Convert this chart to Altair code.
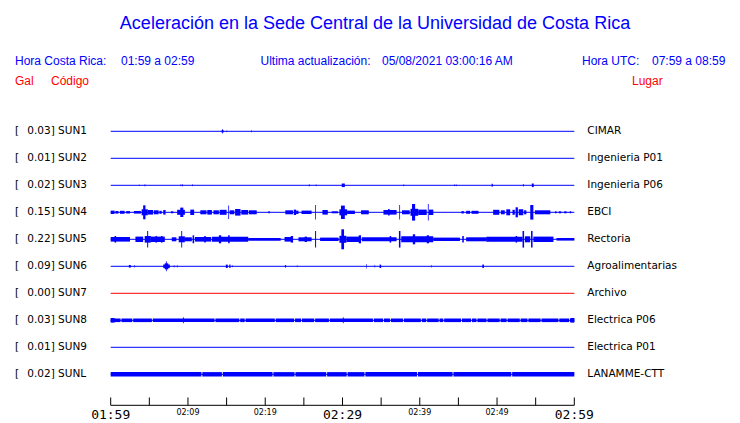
import altair as alt
import pandas as pd

# ---------------- data ----------------
codes = ["SUN1", "SUN2", "SUN3", "SUN4", "SUN5", "SUN6", "SUN7", "SUN8", "SUN9", "SUNL"]
peaks = ["0.03", "0.01", "0.02", "0.15", "0.22", "0.09", "0.00", "0.03", "0.01", "0.02"]
places = ["CIMAR", "Ingenieria P01", "Ingenieria P06", "EBCI", "Rectoria",
          "Agroalimentarias", "Archivo", "Electrica P06", "Electrica P01", "LANAMME-CTT"]
trace_colors = ["#0000ff"] * 6 + ["#ff0000"] + ["#0000ff"] * 3

# bursts: (start minute, end minute, half amplitude)
sun1 = [(14.35, 14.6, 1.3), (14.42, 14.5, 2.3), (15.0, 15.07, 1.0), (18.2, 18.28, 1.0)]
sun2 = []
sun3 = [(3.65, 3.72, 0.8), (4.4, 4.47, 1.3), (9.05, 9.12, 1.0), (9.22, 9.3, 1.3),
        (10.52, 10.6, 1.0), (25.65, 25.73, 1.3), (26.55, 26.62, 1.0), (29.9, 30.3, 1.8),
        (37.9, 37.98, 1.0), (44.45, 44.52, 1.0), (44.68, 44.75, 1.0), (49.3, 49.45, 1.5),
        (53.35, 53.45, 1.3), (54.5, 54.75, 1.8)]
sun4 = [(0.0, 0.5, 1.7), (0.6, 1.0, 1.3), (1.2, 1.8, 1.5), (2.0, 2.5, 1.2), (3.0, 3.9, 1.3),
        (4.0, 4.8, 3.0), (4.2, 4.5, 7.0), (4.8, 5.5, 2.3), (5.6, 6.2, 2.0), (6.3, 6.6, 1.5),
        (6.8, 7.1, 2.3), (7.8, 8.1, 1.0), (8.6, 9.6, 2.5), (9.0, 9.4, 4.7), (10.3, 10.8, 2.7),
        (11.6, 12.4, 2.0), (12.5, 13.1, 2.3), (13.3, 14.0, 2.0), (14.1, 15.0, 2.5),
        (15.22, 15.32, 6.7), (15.4, 16.0, 2.0), (16.1, 16.8, 3.3), (16.9, 17.8, 2.3),
        (17.9, 18.9, 2.0), (20.4, 20.6, 1.0), (22.6, 23.6, 2.0), (23.7, 24.0, 2.7),
        (24.0, 24.3, 1.7), (24.7, 26.0, 1.7), (26.45, 26.55, 7.3), (27.4, 28.1, 2.3),
        (28.6, 29.4, 1.0), (29.6, 30.6, 3.0), (29.8, 30.3, 6.7), (30.6, 31.6, 1.7),
        (32.4, 33.4, 2.0), (35.3, 37.0, 2.3), (35.9, 36.1, 3.3), (37.35, 37.45, 7.3),
        (37.7, 38.7, 2.0), (38.8, 39.8, 3.5), (39.0, 39.4, 8.3), (39.8, 40.9, 2.7),
        (41.05, 41.15, 8.3), (41.2, 41.75, 2.7), (45.4, 45.7, 1.2), (46.0, 46.5, 1.5),
        (46.7, 47.6, 1.5), (49.5, 50.3, 2.5), (50.5, 51.0, 2.0), (51.2, 51.7, 3.0),
        (52.0, 52.3, 2.5), (52.4, 52.7, 5.0), (52.8, 53.4, 3.0), (53.5, 53.8, 2.0),
        (54.3, 54.7, 7.3), (54.9, 56.9, 2.0), (57.5, 57.7, 1.0), (58.0, 58.3, 1.0),
        (58.7, 59.0, 1.0), (59.4, 59.6, 1.0)]
sun5 = [(0.0, 2.5, 2.3), (0.5, 0.7, 3.3), (3.2, 4.2, 2.7), (4.4, 5.2, 3.3), (4.72, 4.85, 8.3),
        (5.2, 7.0, 2.7), (5.8, 6.0, 3.3), (6.5, 6.7, 3.3), (7.9, 8.5, 2.0), (8.8, 9.6, 3.0),
        (9.13, 9.25, 8.3), (9.6, 10.5, 2.0), (10.6, 10.8, 4.0), (10.9, 13.0, 2.3),
        (12.1, 12.3, 3.3), (13.1, 17.8, 2.5), (14.0, 14.3, 4.0), (15.2, 15.4, 4.0),
        (17.8, 22.0, 1.4), (22.5, 23.6, 2.3), (23.3, 23.6, 3.3), (24.3, 26.0, 2.0),
        (25.1, 25.4, 2.7), (26.45, 26.58, 8.3), (27.1, 29.5, 1.7), (29.6, 30.5, 3.5),
        (29.85, 30.2, 10.0), (30.5, 32.3, 2.7), (32.1, 32.4, 4.0), (32.5, 37.0, 2.0),
        (36.1, 36.3, 3.3), (37.3, 37.5, 8.3), (37.6, 41.75, 3.0), (39.1, 39.4, 5.0),
        (40.9, 41.2, 4.0), (41.75, 45.2, 1.7), (45.5, 45.7, 3.3), (46.0, 48.6, 2.0),
        (48.6, 53.3, 2.5), (52.4, 52.6, 3.3), (53.3, 53.5, 8.3), (53.6, 54.3, 3.0),
        (54.4, 54.6, 8.3), (54.7, 57.3, 2.7), (57.7, 60.0, 1.3)]
sun6 = [(2.35, 2.6, 1.3), (3.03, 3.1, 1.3), (6.8, 7.65, 1.8), (7.0, 7.45, 3.0),
        (7.15, 7.25, 5.0), (8.17, 8.24, 1.3), (8.57, 8.64, 1.3), (14.9, 15.15, 1.7),
        (15.35, 15.5, 1.7), (15.7, 15.77, 1.0), (22.55, 22.7, 1.2), (24.1, 24.17, 1.0),
        (33.05, 33.12, 2.3), (34.15, 34.22, 1.3), (34.8, 35.0, 1.7), (41.45, 41.52, 1.3),
        (48.1, 48.3, 1.7)]
sun7 = []
sun8_band = 1.8
sun8_gaps = [1.33, 2.85, 5.39, 13.5, 16.7, 17.4, 21.3, 23.8, 24.7, 26.4, 28.3, 34.0, 35.3,
             36.2, 37.9, 40.2, 40.9, 42.5, 43.1, 45.4, 46.7, 47.4, 48.7, 50.4, 51.3, 53.0,
             54.0, 55.7, 58.0, 59.4]
sun8_extra = [(0.0, 0.5, 2.3), (9.35, 9.45, 3.0), (30.05, 30.15, 3.0), (59.5, 60.0, 2.3)]
sun9 = []
sunl_band = 2.2
sunl_gaps = [11.8, 14.45, 21.0, 23.85, 27.95, 30.6, 32.9, 39.7, 44.3, 51.9]

tick_minutes = [0, 5, 10, 15, 20, 25, 30, 35, 40, 45, 50, 55, 60]
major_minutes = [0, 30, 60]
major_labels = ["01:59", "02:29", "02:59"]
minor_minutes = [10, 20, 40, 50]
minor_labels = ["02:09", "02:19", "02:39", "02:49"]

# ---------------- build tables ----------------
ROW = 27.0
START, END = 0.0, 60.0


def band(gaps, amp, gap_w=0.12):
    segs, s = [], START
    for g in gaps:
        segs.append((s, g - gap_w / 2, amp))
        s = g + gap_w / 2
    segs.append((s, END, amp))
    return segs


bursts = [sun1, sun2, sun3, sun4, sun5, sun6, sun7,
          band(sun8_gaps, sun8_band) + sun8_extra, sun9, band(sunl_gaps, sunl_band)]

base_rows, rect_rows, lab_rows = [], [], []
for i, code in enumerate(codes):
    yc = i * ROW
    base_rows.append(dict(t0=START, t1=END, yc=yc, color=trace_colors[i]))
    for (a, b, amp) in bursts[i]:
        rect_rows.append(dict(t0=a, t1=b, lo=yc - amp, hi=yc + amp, color=trace_colors[i]))
    lab_rows.append(dict(yc=yc, br="[", left=f"{peaks[i]}] {code}", right=places[i]))

base_df = pd.DataFrame(base_rows)
rect_df = pd.DataFrame(rect_rows)
lab_df = pd.DataFrame(lab_rows)
tick_df = pd.DataFrame(dict(t=tick_minutes))
axis_df = pd.DataFrame(dict(t0=[min(tick_minutes)], t1=[max(tick_minutes)]))
major_df = pd.DataFrame(dict(t=major_minutes, lab=major_labels))
minor_df = pd.DataFrame(dict(t=minor_minutes, lab=minor_labels))

xs = alt.Scale(domain=[START, END], range=[102.7, 566.3])
ys = alt.Scale(domain=[0, 9 * ROW], range=[123.3, 366.3])
X = lambda f: alt.X(f, type="quantitative", scale=xs, axis=None)
Y = lambda f: alt.Y(f, type="quantitative", scale=ys, axis=None)

BLUE, RED = "#0000ff", "#ff0000"

baselines = alt.Chart(base_df).mark_rule(strokeWidth=1).encode(
    x=X("t0"), x2="t1", y=Y("yc"), color=alt.Color("color:N", scale=None))
rects = alt.Chart(rect_df).mark_rect().encode(
    x=X("t0"), x2="t1", y=Y("lo"), y2="hi", color=alt.Color("color:N", scale=None))

lab_font = dict(font="DejaVu Sans", fontSize=10.5, color="black", baseline="middle", align="left")
brackets = alt.Chart(lab_df).mark_text(**lab_font).encode(
    x=alt.value(7), y=Y("yc"), text="br:N")
left_labels = alt.Chart(lab_df).mark_text(**lab_font).encode(
    x=alt.value(19.3), y=Y("yc"), text="left:N")
right_labels = alt.Chart(lab_df).mark_text(**lab_font).encode(
    x=alt.value(579.3), y=Y("yc"), text="right:N")

axis_line = alt.Chart(axis_df).mark_rule(strokeWidth=1, color="black").encode(
    x=X("t0"), x2="t1", y=alt.value(397.3))
ticks = alt.Chart(tick_df).mark_rule(strokeWidth=1, color="black").encode(
    x=X("t"), y=alt.value(389.5), y2=alt.value(397.3))
major_text = alt.Chart(major_df).mark_text(
    font="DejaVu Sans Mono", fontSize=13, color="black", baseline="middle", align="center"
).encode(x=X("t"), y=alt.value(406.5), text="lab:N")
minor_text = alt.Chart(minor_df).mark_text(
    font="DejaVu Sans", fontSize=8, color="black", baseline="middle", align="center"
).encode(x=X("t"), y=alt.value(404.5), text="lab:N")


def label(txt, x, y, color=BLUE, size=12, align="left"):
    return alt.Chart(pd.DataFrame({"s": [txt]})).mark_text(
        font="Liberation Sans", fontSize=size, color=color, align=align, baseline="middle"
    ).encode(x=alt.value(x), y=alt.value(y), text="s:N")


headers = [
    label("Aceleración en la Sede Central de la Universidad de Costa Rica", 367, 16, size=18, align="center"),
    label("Hora Costa Rica:", 7, 53),
    label("01:59 a 02:59", 113, 53),
    label("Ultima actualización:", 252.5, 53),
    label("05/08/2021 03:00:16 AM", 374, 53),
    label("Hora UTC:", 574, 53),
    label("07:59 a 08:59", 644, 53),
    label("Gal", 7, 73, color=RED),
    label("Código", 43, 73, color=RED),
    label("Lugar", 624, 73, color=RED),
]

chart = alt.layer(
    baselines, rects, brackets, left_labels, right_labels,
    axis_line, ticks, major_text, minor_text, *headers
).properties(
    width=724, height=413, autosize=alt.AutoSizeParams(type="none"), padding=0,
    background="white"
).configure_view(stroke=None)

chart.save("out.html", embed_options={"renderer": "svg", "actions": False})
